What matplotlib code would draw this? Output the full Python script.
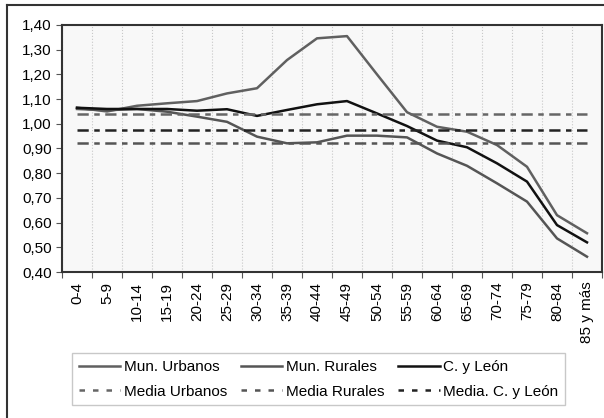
import matplotlib.pyplot as plt
import numpy as np
from matplotlib.lines import Line2D

plt.rcParams['font.family'] = ['Liberation Sans', 'DejaVu Sans']

# Age groups and index values
grupos = ['0-4', '5-9', '10-14', '15-19', '20-24', '25-29', '30-34', '35-39',
          '40-44', '45-49', '50-54', '55-59', '60-64', '65-69', '70-74',
          '75-79', '80-84', '85 y más']
urbanos = [1.065, 1.05, 1.073, 1.083, 1.092, 1.123, 1.144, 1.258, 1.346,
           1.355, 1.20, 1.047, 0.988, 0.968, 0.914, 0.826, 0.63, 0.557]
rurales = [1.06, 1.055, 1.06, 1.049, 1.029, 1.008, 0.948, 0.921, 0.925,
           0.952, 0.952, 0.945, 0.88, 0.83, 0.759, 0.685, 0.536, 0.462]
cyl = [1.065, 1.06, 1.06, 1.06, 1.053, 1.059, 1.032, 1.056, 1.079,
       1.092, 1.042, 0.991, 0.932, 0.905, 0.84, 0.766, 0.59, 0.52]
media_urbanos = 1.04
media_rurales = 0.922
media_cyl = 0.975

fs = 11
fig = plt.figure(figsize=(6.04, 4.18), dpi=100)
ax = fig.add_axes([62/604, 1 - 272/418, 540/604, 247/418])
ax.set_facecolor('#f8f8f8')

x = np.arange(len(grupos))
lw = 1.8
dash = (0, (4.5, 2.2, 2.2, 2.2))

ax.plot(x, urbanos, color='#606060', lw=lw)
ax.plot(x, rurales, color='#555555', lw=lw)
ax.plot(x, cyl, color='#111111', lw=lw)
ax.plot(x, [media_urbanos] * len(x), color='#666666', lw=lw, linestyle=dash)
ax.plot(x, [media_rurales] * len(x), color='#555555', lw=lw, linestyle=dash)
ax.plot(x, [media_cyl] * len(x), color='#222222', lw=lw, linestyle=dash)

ax.set_xlim(-0.5, len(grupos) - 0.5)
ax.set_ylim(0.4, 1.4)
yt = np.arange(0.4, 1.41, 0.1)
ax.set_yticks(yt)
ax.set_yticklabels([f'{v:.2f}'.replace('.', ',') for v in yt], fontsize=fs)

# ticks at category boundaries, labels at centres
ax.set_xticks(np.arange(-0.5, len(grupos), 1))
ax.set_xticklabels([])
ax.set_xticks(x, minor=True)
ax.set_xticklabels(grupos, minor=True, rotation=90, fontsize=fs)
ax.tick_params(axis='x', which='minor', length=0, pad=7)
ax.tick_params(axis='both', which='major', length=4, color='#555555', direction='out')
ax.grid(axis='x', which='major', color='#c8c8c8', linestyle=':', lw=0.8)

for s in ax.spines.values():
    s.set_color('#333333')
    s.set_linewidth(1.5)

ld = (0, (2.2, 3.2))
handles = [
    Line2D([], [], color='#606060', lw=lw),
    Line2D([], [], color='#666666', lw=lw, linestyle=ld),
    Line2D([], [], color='#555555', lw=lw),
    Line2D([], [], color='#555555', lw=lw, linestyle=ld),
    Line2D([], [], color='#111111', lw=lw),
    Line2D([], [], color='#222222', lw=lw, linestyle=ld),
]
labels = ['Mun. Urbanos', 'Media Urbanos', 'Mun. Rurales', 'Media Rurales',
          'C. y León', 'Media. C. y León']
leg = fig.legend(handles, labels, ncol=3, loc='upper left',
                 bbox_to_anchor=(72/604, 1 - 353/418), fontsize=fs,
                 frameon=True, fancybox=False, handlelength=2.7,
                 handletextpad=0.25, columnspacing=0.9, labelspacing=0.7,
                 borderpad=0.45, borderaxespad=0)
leg.get_frame().set_edgecolor('#bbbbbb')
leg.get_frame().set_linewidth(1)

# outer border of the chart
fig.add_artist(plt.Line2D([7/604, 7/604], [0, 1 - 5/418], color='#333333', lw=1.5))
fig.add_artist(plt.Line2D([7/604, 1], [1 - 5/418, 1 - 5/418], color='#333333', lw=1.5))

fig.savefig('out.png', dpi=100)
